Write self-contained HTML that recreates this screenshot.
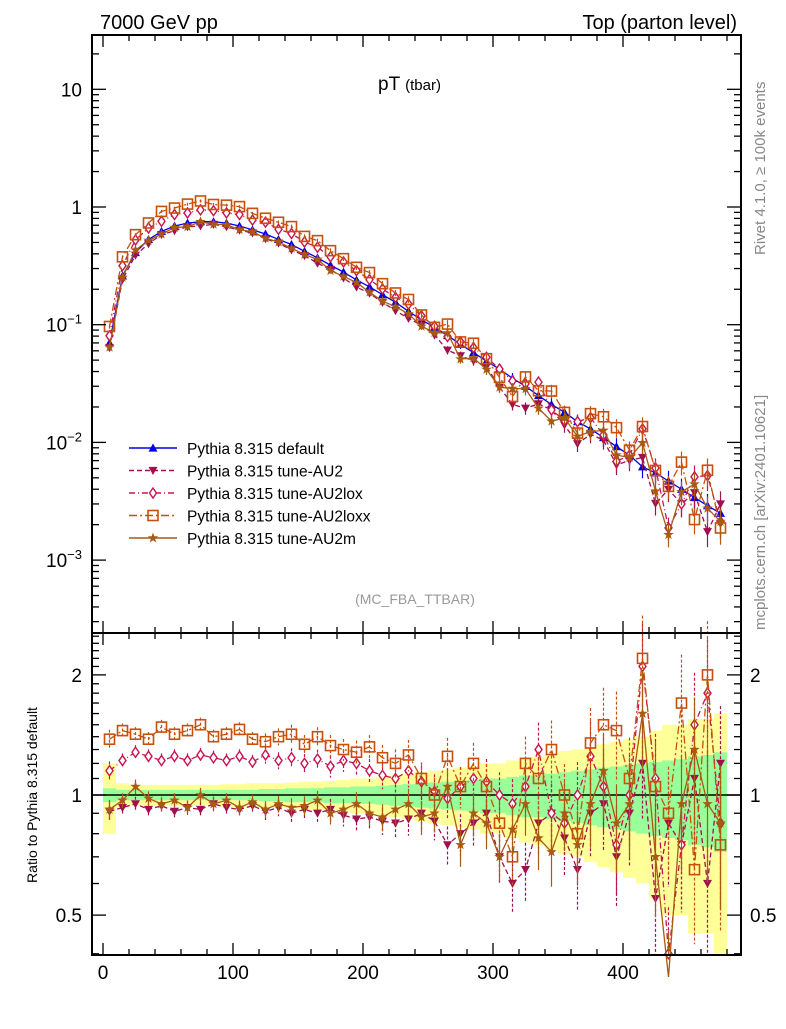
<!DOCTYPE html>
<html><head><meta charset="utf-8"><style>
body{margin:0;background:#fff}
svg text{font-family:"Liberation Sans",sans-serif}
</style></head><body>
<svg id="c" width="786" height="1024" xmlns="http://www.w3.org/2000/svg">
<rect width="786" height="1024" fill="#fff"/>
<g id="band"></g><g id="marks"></g><g id="axes"></g>
<text x="100" y="29" font-size="20">7000 GeV pp</text>
<text x="737" y="29" font-size="20" text-anchor="end">Top (parton level)</text>
<text x="378" y="90" font-size="19">pT <tspan font-size="15">(tbar)</tspan></text>
<text x="415" y="604" font-size="14" fill="#999" text-anchor="middle">(MC_FBA_TTBAR)</text>
<text transform="translate(765,255) rotate(-90)" font-size="15" fill="#888">Rivet 4.1.0, ≥ 100k events</text>
<text transform="translate(765,630) rotate(-90)" font-size="15" fill="#888">mcplots.cern.ch [arXiv:2401.10621]</text>
<text transform="translate(37,795) rotate(-90)" font-size="14" text-anchor="middle">Ratio to Pythia 8.315 default</text>
<g id="legend"></g>
</svg>
<script>
const binCenters=[5,15,25,35,45,55,65,75,85,95,105,115,125,135,145,155,165,175,185,195,205,215,225,235,245,255,265,275,285,295,305,315,325,335,345,355,365,375,385,395,405,415,425,435,445,455,465,475];
const defaultVals=[0.07,0.26,0.41,0.53,0.62,0.69,0.73,0.75,0.75,0.73,0.69,0.64,0.59,0.53,0.48,0.42,0.37,0.32,0.28,0.24,0.21,0.18,0.155,0.13,0.11,0.095,0.081,0.068,0.058,0.049,0.042,0.035,0.030,0.025,0.021,0.018,0.015,0.013,0.011,0.0092,0.0078,0.0062,0.0055,0.0047,0.0040,0.0034,0.0029,0.0025];
const ratioAU2=[0.91,0.93,0.95,0.92,0.94,0.91,0.93,0.92,0.95,0.93,0.92,0.94,0.91,0.93,0.9,0.92,0.9,0.92,0.89,0.87,0.88,0.86,0.85,0.87,0.9,0.86,0.75,0.8,0.85,0.9,0.7,0.6,0.65,0.85,0.9,0.78,0.65,0.9,0.95,0.7,0.9,1.2,0.55,0.85,0.75,1.1,0.6,1.2];
const ratioAU2lox=[1.15,1.22,1.28,1.25,1.22,1.25,1.22,1.26,1.24,1.22,1.25,1.21,1.26,1.22,1.24,1.2,1.23,1.18,1.22,1.2,1.15,1.12,1.1,1.15,1.08,1.02,0.98,1.05,1.1,1.08,1.0,0.95,1.05,1.3,0.9,0.85,1.0,1.25,1.05,0.75,1.0,2.1,1.1,0.4,0.75,1.5,1.8,0.85];
const ratioAU2loxx=[1.38,1.45,1.42,1.38,1.48,1.42,1.45,1.5,1.4,1.42,1.46,1.38,1.36,1.4,1.42,1.34,1.4,1.33,1.3,1.28,1.32,1.24,1.2,1.26,1.1,1.0,1.25,1.05,1.2,1.05,0.85,0.7,1.2,1.1,1.3,1.0,0.8,1.35,1.5,1.45,1.1,2.2,1.05,0.9,1.7,0.65,2.0,0.75];
const ratioAU2m=[0.92,0.97,1.05,0.98,0.95,0.97,0.93,1.0,0.95,0.97,0.93,0.96,0.92,0.95,0.93,0.94,0.97,0.9,0.92,0.95,0.9,0.88,0.92,0.95,0.88,0.9,1.05,0.75,0.9,0.85,0.7,0.82,0.95,0.78,0.72,0.9,0.75,0.95,1.15,0.85,0.95,1.6,0.7,0.35,0.95,1.3,0.95,0.85];
const bandGreen=[0.04,0.03,0.03,0.03,0.03,0.03,0.03,0.03,0.03,0.03,0.03,0.03,0.035,0.035,0.04,0.04,0.04,0.045,0.045,0.05,0.05,0.055,0.06,0.065,0.07,0.075,0.08,0.085,0.09,0.1,0.1,0.11,0.12,0.12,0.13,0.14,0.15,0.16,0.17,0.18,0.19,0.2,0.21,0.22,0.23,0.25,0.26,0.28];
const bandYellow=[0.2,0.07,0.06,0.06,0.06,0.06,0.06,0.06,0.06,0.065,0.065,0.07,0.07,0.07,0.075,0.08,0.08,0.085,0.09,0.1,0.1,0.11,0.12,0.13,0.14,0.15,0.16,0.17,0.18,0.2,0.2,0.22,0.24,0.25,0.27,0.29,0.3,0.32,0.34,0.36,0.38,0.4,0.45,0.5,0.5,0.55,0.55,0.6];
const xTicks=[0,100,200,300,400];
const mainTicks=[{v:10,l:"10"},{v:1,l:"1"},{v:0.1,l:"10<tspan dy='-8' font-size='13'>−1</tspan>"},{v:0.01,l:"10<tspan dy='-8' font-size='13'>−2</tspan>"},{v:0.001,l:"10<tspan dy='-8' font-size='13'>−3</tspan>"}];
const ratioTicks=[2,1,0.5];

const L=92,R=741,T=35,MB=633,RB=955;
const X=v=>103+v*1.3;
const Y=v=>207-Math.log10(v)*117.7;
const YR=v=>795-Math.log10(v)*399;
const NS='http://www.w3.org/2000/svg';
function mk(tag,attrs,parent){const e=document.createElementNS(NS,tag);for(const k in attrs)e.setAttribute(k,attrs[k]);parent.appendChild(e);return e;}
const band=document.getElementById('band'),marks=document.getElementById('marks'),axes=document.getElementById('axes'),leg=document.getElementById('legend');

function bandPath(arr){let up='',dn='';binCenters.forEach((c,i)=>{const x0=X(c-5),x1=X(c+5);up+=(i?'L':'M')+x0+','+YR(1+arr[i])+'L'+x1+','+YR(1+arr[i]);});for(let i=binCenters.length-1;i>=0;i--){const c=binCenters[i];dn+='L'+X(c+5)+','+Math.min(RB,YR(Math.max(0.3,1-arr[i])))+'L'+X(c-5)+','+Math.min(RB,YR(Math.max(0.3,1-arr[i])));}return up+dn+'Z';}
let by=mk('path',{d:bandPath(bandYellow),fill:'#ffff99'},band);


let bg=mk('path',{d:bandPath(bandGreen),fill:'#99ff99'},band);


let ul=mk('line',{x1:L,x2:R,y1:795,y2:795,stroke:'#000','stroke-width':1.5},band);



function marker(type,x,y,col,g){
  const s=4.5;
  if(type==='tu')return mk('path',{d:`M${x},${y-s}L${x+s},${y+s*0.8}L${x-s},${y+s*0.8}Z`,fill:col},g);
  if(type==='td')return mk('path',{d:`M${x},${y+s}L${x+s},${y-s*0.8}L${x-s},${y-s*0.8}Z`,fill:col},g);
  if(type==='di')return mk('path',{d:`M${x},${y-5}L${x+3.5},${y}L${x},${y+5}L${x-3.5},${y}Z`,fill:'#fff',stroke:col,'stroke-width':1.4},g);
  if(type==='sq')return mk('rect',{x:x-5,y:y-5,width:10,height:10,fill:'none',stroke:col,'stroke-width':1.6},g);
  if(type==='st'){let d='';for(let k=0;k<10;k++){const r=k%2?2.2:5.5,a=-Math.PI/2+k*Math.PI/5;d+=(k?'L':'M')+(x+r*Math.cos(a))+','+(y+r*Math.sin(a));}return mk('path',{d:d+'Z',fill:col},g);}
}
const series=[
 {name:'Pythia 8.315 default',id:'default',ratio:null,col:'#0000e6',m:'tu',dash:''},
 {name:'Pythia 8.315 tune-AU2',id:'au2',ratio:ratioAU2,col:'#a0104e',m:'td',dash:'5,3'},
 {name:'Pythia 8.315 tune-AU2lox',id:'au2lox',ratio:ratioAU2lox,col:'#c8144e',m:'di',dash:'6,3,1,3'},
 {name:'Pythia 8.315 tune-AU2loxx',id:'au2loxx',ratio:ratioAU2loxx,col:'#c8500a',m:'sq',dash:'8,3,2,3'},
 {name:'Pythia 8.315 tune-AU2m',id:'au2m',ratio:ratioAU2m,col:'#a85a10',m:'st',dash:''}
];
series.forEach(s=>{
  const g=mk('g',{},marks);
  
  
  const vals=binCenters.map((c,i)=>defaultVals[i]*(s.ratio?s.ratio[i]:1));
  const rat=binCenters.map((c,i)=>s.ratio?s.ratio[i]:1);
  let d='',dr='';
  binCenters.forEach((c,i)=>{d+=(i?'L':'M')+X(c)+','+Y(vals[i]);dr+=(i?'L':'M')+X(c)+','+YR(rat[i]);});
  mk('path',{d:d,fill:'none',stroke:s.col,'stroke-width':1.3,'stroke-dasharray':s.dash},g);
  if(s.ratio)mk('path',{d:dr,fill:'none',stroke:s.col,'stroke-width':1.3,'stroke-dasharray':s.dash},g);
  binCenters.forEach((c,i)=>{
    const e=bandGreen[i];
    const yTop=Y(vals[i]*(1+e)),yBot=Y(vals[i]*(1-e));
    mk('line',{x1:X(c),x2:X(c),y1:yTop,y2:yBot,stroke:s.col,'stroke-width':1.2},g);
    const p=marker(s.m,X(c),Y(vals[i]),s.col,g);
    
    
    if(s.ratio){
      const r1=Math.min(RB,YR(Math.max(0.35,rat[i]*(1-1.4*e)))),r0=Math.max(T,YR(rat[i]*(1+1.4*e)));
      mk('line',{x1:X(c),x2:X(c),y1:r0,y2:r1,stroke:s.col,'stroke-width':1.2,'stroke-dasharray':s.dash?'3,2':''},g);
      if(YR(rat[i])<RB&&YR(rat[i])>MB){const q=marker(s.m,X(c),YR(rat[i]),s.col,g);
      
      }
    }
  });
});

const f1=mk('rect',{x:L,y:T,width:R-L,height:MB-T,fill:'none',stroke:'#000','stroke-width':2},axes);


const f2=mk('rect',{x:L,y:MB,width:R-L,height:RB-MB,fill:'none',stroke:'#000','stroke-width':2},axes);


for(let v=0;v<=480;v+=20){const big=v%100===0;const x=X(v);
 [[MB,-1],[T,1],[RB,-1],[MB,1]].forEach(([y,dir])=>mk('line',{x1:x,x2:x,y1:y,y2:y+dir*(big?12:6),stroke:'#000','stroke-width':1.3},axes));}
xTicks.forEach(v=>{const t=mk('text',{x:X(v),y:979,'font-size':19,'text-anchor':'middle'},axes);t.textContent=v;
 
 });
for(let e=-4;e<=1;e++){for(let m=1;m<10;m++){const v=m*Math.pow(10,e);const y=Y(v);if(y<T||y>MB)continue;const len=m===1?14:7;
 mk('line',{x1:L,x2:L+len,y1:y,y2:y,stroke:'#000','stroke-width':1.3},axes);mk('line',{x1:R,x2:R-len,y1:y,y2:y,stroke:'#000','stroke-width':1.3},axes);}}
mainTicks.forEach(t=>{const e=mk('text',{x:82,y:Y(t.v)+7,'font-size':19,'text-anchor':'end'},axes);e.innerHTML=t.l;
 
 });
for(let v=0.4;v<=2.55;v+=0.1){const y=YR(v);if(y<MB||y>RB)continue;const maj=[0.5,1,2].some(q=>Math.abs(q-v)<1e-6);const len=maj?14:7;
 mk('line',{x1:L,x2:L+len,y1:y,y2:y,stroke:'#000','stroke-width':1.3},axes);mk('line',{x1:R,x2:R-len,y1:y,y2:y,stroke:'#000','stroke-width':1.3},axes);}
ratioTicks.forEach(v=>{[[82,'end'],[750,'start']].forEach(([x,a])=>{const e=mk('text',{x:x,y:YR(v)+7,'font-size':19,'text-anchor':a},axes);e.textContent=v;
 
 });});
series.forEach((s,i)=>{const y=448+i*22.5;const g=mk('g',{},leg);
 
 
 mk('line',{x1:129,x2:177,y1:y,y2:y,stroke:s.col,'stroke-width':1.4,'stroke-dasharray':s.dash},g);
 marker(s.m,153,y,s.col,g);
 const t=mk('text',{x:187,y:y+6,'font-size':15.5},g);t.textContent=s.name;});
</script>
</body></html>
